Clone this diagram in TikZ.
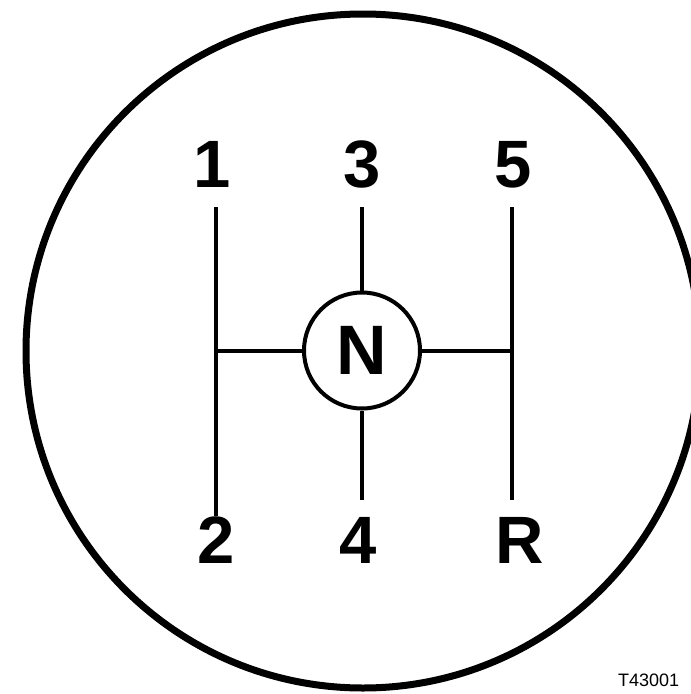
\documentclass[tikz,border=0pt]{standalone}
\usepackage{fontspec}
\setmainfont{Liberation Sans}
\usetikzlibrary{positioning, calc}

\begin{document}
\begin{tikzpicture}[
    x=1pt, y=-1pt,
    rim/.style={line width=7pt},
    gate/.style={line width=4pt},
    gear/.style={
        font=\fontsize{67}{67}\selectfont\bfseries,
        inner sep=0pt, anchor=base,
    },
    knob/.style={
        draw, circle, line width=4pt, minimum size=116pt, inner sep=0pt,
        font=\fontsize{70}{70}\selectfont\bfseries,
    },
    tag/.style={font=\fontsize{18}{18}\selectfont, anchor=base west, inner sep=0pt},
]

\useasboundingbox (0,0) rectangle (691,694);

\def\colA{215.5}
\def\colB{362}
\def\colC{512}
\def\midY{350.5}

% outer ring
\draw[rim] (363,351) circle[radius=337];

% gear labels
\node[gear] (g1) at (212.5,187) {1};
\node[gear] (g3) at (362,187) {3};
\node[gear] (g5) at (513,187) {5};
\node[gear] (g2) at (216,563) {2};
\node[gear] (g4) at (358,563) {4};
\node[gear] (gR) at (520,563) {R};

\node[knob] (N) at (\colB,\midY) {N};

\coordinate (jl) at (\colA,\midY);
\coordinate (jr) at (\colC,\midY);

% shift gate
\draw[gate] (jl |- g1.south) ++(0,20) coordinate (t1) -- (jl |- g2.north) ++(0,-16) coordinate (b2);
\draw[gate] (t1) -- (b2);
\draw[gate] (jr |- t1) -- (jr |- b2);
\draw[gate] (N |- t1) -- (N);
\draw[gate] (N) -- (N |- b2);
\draw[gate] (jl) -- (N);
\draw[gate] (N) -- (jr);

\node[tag] (ref) at (618,686) {T43001};

\end{tikzpicture}
\end{document}
